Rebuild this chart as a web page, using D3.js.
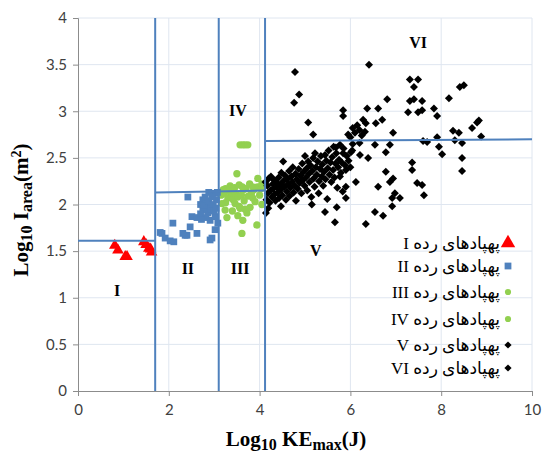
<!DOCTYPE html>
<html>
<head>
<meta charset="utf-8">
<script src="https://cdn.jsdelivr.net/npm/d3@7"></script>
<style>
  body { margin: 0; background: #fff; }
  svg { display: block; }
</style>
</head>
<body>
<script>
// class I .. VI : [log10 KEmax, log10 Iarea]
var class1 = [[0.81,1.56],[0.88,1.51],[1.04,1.44],[1.08,1.44],[1.45,1.60],[1.50,1.57],[1.56,1.53],[1.60,1.52],[1.62,1.49]];

var class2 = [[1.81,1.70],[1.85,1.69],[1.92,1.64],[2.03,1.61],[2.11,1.60],[2.09,1.80],[2.31,1.69],[2.36,1.67],[2.40,1.67],
  [2.47,1.76],[2.51,1.87],[2.42,2.08],[2.62,1.69],[2.62,1.86],[2.91,1.62],[2.95,1.64],[3.02,1.73],[2.75,2.05],[2.95,2.10],
  [3.02,2.12],[2.84,1.97],[2.86,1.91],[2.75,1.94],[2.91,1.83],[3.02,1.87],[3.08,1.80],[2.70,2.00],[2.78,1.99],[2.80,2.08],
  [2.88,2.04],[2.92,1.95],[2.98,2.00],[3.05,2.05],[2.70,1.90],[2.82,1.86],[3.00,1.93],[3.07,2.13],[2.88,2.13],[2.96,2.08],
  [2.72,1.84],[3.04,1.96]];

var class3 = [[3.15,2.10],[3.17,2.01],[3.22,2.12],[3.24,1.94],[3.28,1.86],[3.30,2.07],[3.35,2.08],[3.38,2.12],[3.42,2.05],
  [3.46,2.01],[3.48,2.11],[3.52,2.08],[3.55,1.98],[3.57,1.96],[3.60,2.10],[3.61,1.69],[3.63,1.83],[3.66,2.04],[3.72,1.91],
  [3.75,2.09],[3.79,1.97],[3.82,2.12],[3.85,2.07],[3.90,2.03],[3.94,1.78],[4.00,2.10],[4.05,2.00],[3.25,2.02],[3.68,1.95],
  [3.40,1.93],[3.52,1.88]];

var class4 = [[3.57,2.64],[3.63,2.64],[3.68,2.64],[3.74,2.64],[3.50,2.33],[3.96,2.28],[3.25,2.17],[3.35,2.20],[3.45,2.18],
  [3.55,2.21],[3.62,2.19],[3.70,2.17],[3.78,2.22],[3.88,2.16],[3.95,2.19],[4.03,2.17],[3.30,2.15],[3.42,2.15],[3.65,2.16],
  [3.85,2.19],[4.05,2.22],[3.20,2.16]];

var class5 = [[7.60,2.68],[7.69,2.67],[7.95,2.62],[8.02,2.54],[8.30,2.69],[8.46,2.66],[8.46,2.50],[8.46,2.36],[6.54,2.64],
  [6.87,2.64],[6.78,2.56],[6.39,2.50],[6.21,2.53],[7.36,2.45],[7.36,2.37],[6.78,2.35],[6.87,2.24],[6.94,2.28],[6.61,2.19],
  [7.47,2.23],[7.58,2.21],[7.62,2.10],[6.98,2.12],[6.92,2.07],[7.09,2.07],[6.92,1.98],[6.54,1.92],[6.72,1.88],[6.34,1.79],
  [6.12,2.24],[5.90,2.07],[5.66,1.81],[5.70,1.97],[5.44,1.92],[5.15,2.00],[4.47,1.98],[4.19,1.96],[4.52,2.46],[5.90,2.19],
  [5.68,2.61],[5.84,2.55],[6.01,2.56],[5.90,2.37],[5.77,2.30],[6.05,2.65],[6.20,2.66],[4.14,1.91],[4.13,2.24],
  [4.15,2.05],[4.17,2.20],[4.18,2.12],[4.20,2.28],[4.22,2.02],[4.24,2.15],[4.25,2.30],[4.27,2.08],[4.29,2.22],[4.30,2.17],
  [4.32,2.26],[4.33,2.11],[4.35,2.04],[4.37,2.24],[4.38,2.19],[4.40,2.13],[4.42,2.29],[4.43,2.07],[4.45,2.21],[4.47,2.16],
  [4.48,2.34],[4.50,2.10],[4.52,2.25],[4.54,2.19],[4.56,2.31],[4.58,2.05],[4.60,2.14],[4.61,2.27],[4.63,2.22],[4.65,2.36],
  [4.66,2.09],[4.68,2.18],[4.70,2.30],[4.72,2.24],[4.73,2.40],[4.75,2.13],[4.77,2.20],[4.79,2.33],[4.80,2.04],[4.82,2.27],
  [4.84,2.17],[4.86,2.38],[4.88,2.23],[4.90,2.31],[4.92,2.12],[4.94,2.44],[4.95,2.26],[4.97,2.35],[4.99,2.20],
  [5.00,2.52],[5.02,2.29],[5.04,2.39],[5.05,2.15],[5.07,2.46],[5.09,2.33],[5.10,2.24],[5.12,2.42],[5.14,2.08],[5.16,2.36],
  [5.18,2.50],[5.19,2.28],[5.21,2.19],[5.22,2.55],[5.24,2.40],[5.26,2.32],[5.28,2.46],[5.30,2.12],[5.31,2.25],[5.33,2.38],
  [5.35,2.52],[5.37,2.30],[5.38,2.43],[5.40,2.20],[5.42,2.35],[5.44,2.53],[5.45,2.27],[5.47,2.47],[5.49,2.06],
  [5.50,2.39],[5.52,2.58],[5.54,2.32],[5.56,2.45],[5.58,2.24],[5.60,2.51],[5.62,2.37],[5.63,2.62],[5.65,2.29],[5.67,2.44],
  [5.69,2.55],[5.71,2.18],[5.73,2.40],[5.75,2.48],[5.77,2.64],[5.79,2.34],[5.81,2.45],[5.83,2.14],[5.85,2.60],[5.88,2.42],
  [5.92,2.52],[5.96,2.47],[6.00,2.40],[6.04,2.58]];

var class6 = [[4.78,3.42],[4.87,3.18],[4.76,3.09],[5.07,2.88],[5.18,2.75],[5.84,3.01],[5.84,2.95],[6.41,3.50],[7.31,3.34],
  [7.49,3.34],[7.40,3.26],[6.81,3.13],[7.31,3.11],[7.40,3.13],[7.58,3.11],[7.27,2.99],[7.49,2.99],[7.58,3.01],[6.37,3.03],
  [6.61,3.03],[6.56,2.87],[6.70,2.91],[6.28,2.91],[6.34,2.87],[6.94,2.77],[7.84,3.03],[7.91,2.95],[8.17,3.14],[8.41,3.26],
  [8.50,3.28],[8.26,2.79],[8.39,2.77],[8.68,2.82],[8.79,2.88],[8.83,2.90],[8.88,2.73],[7.91,2.72],[5.95,2.75],[6.10,2.77],
  [6.05,2.82],[6.20,2.80],[6.25,2.74],[6.15,2.85],[6.00,2.72],[6.32,2.78]];

// region boundaries
var vBounds = [1.7, 3.1, 4.12];
var hBounds = [[0, 1.61, 1.7, 1.61], [1.7, 2.13, 4.12, 2.15], [4.12, 2.68, 10, 2.70]];

// region names
var regionNames = ['I', 'II', 'III', 'IV', 'V', 'VI'];
var regionPos = [[0.86, 1.08], [2.42, 1.32], [3.57, 1.32], [3.52, 3.01], [5.24, 1.51], [7.49, 3.74]];

var legendNames = ['پهپادهای رده I', 'پهپادهای رده II', 'پهپادهای رده III', 'پهپادهای رده IV', 'پهپادهای رده V', 'پهپادهای رده VI'];

var yTicks = [0, 0.5, 1, 1.5, 2, 2.5, 3, 3.5, 4];
var xTicks = [0, 2, 4, 6, 8, 10];

var w = 542;
var h = 456;
var plotL = 78, plotR = 532, plotT = 18, plotB = 391;

var svg = d3.select('body')
  .append('svg')
  .attr('width', w)
  .attr('height', h);

var xScale = d3.scaleLinear().domain([0, 10]).range([plotL, plotR]);
var yScale = d3.scaleLinear().domain([0, 4]).range([plotB, plotT]);

// grid
svg.append('g').selectAll('line')
  .data(yTicks.slice(1))
  .enter().append('line')
  .attr('x1', plotL).attr('x2', plotR)
  .attr('y1', d => yScale(d)).attr('y2', d => yScale(d))
  .attr('stroke', '#dfe6f0').attr('stroke-width', 1);

svg.append('g').selectAll('line')
  .data(xTicks.slice(1))
  .enter().append('line')
  .attr('x1', d => xScale(d)).attr('x2', d => xScale(d))
  .attr('y1', plotT).attr('y2', plotB)
  .attr('stroke', '#dfe6f0').attr('stroke-width', 1);

// axes
var xAxis = d3.axisBottom(xScale).tickValues(xTicks).tickSize(5).tickPadding(8).tickFormat(d => d);
var yAxis = d3.axisLeft(yScale).tickValues(yTicks).tickSize(5).tickPadding(6).tickFormat(d => d);

svg.append('g')
  .attr('class', 'x_axis')
  .attr('transform', 'translate(0,' + plotB + ')')
  .call(xAxis);

svg.append('g')
  .attr('class', 'y_axis')
  .attr('transform', 'translate(' + plotL + ',0)')
  .call(yAxis);

svg.selectAll('.x_axis path, .y_axis path, .x_axis line, .y_axis line')
  .attr('stroke', '#8c8c8c');
svg.selectAll('.x_axis text, .y_axis text')
  .attr('fill', '#404040')
  .style('font-family', 'Lato, "Open Sans", sans-serif')
  .style('font-size', '15px');

// rotated square reads wider than d3's diamond, like the Excel marker
function markerPath(type, size) {
  return d3.symbol().type(type === 'diamond' ? d3.symbolSquare : type).size(size)();
}

// points
function drawSymbols(data, type, size, color) {
  svg.append('g').selectAll('path')
    .data(data)
    .enter().append('path')
    .attr('d', markerPath(type, size))
    .attr('transform', d => 'translate(' + xScale(d[0]) + ',' + yScale(d[1]) + ')' + (type === 'diamond' ? ' rotate(45)' : ''))
    .attr('fill', color);
}

drawSymbols(class3, d3.symbolCircle, 42, '#92d050');
drawSymbols(class4, d3.symbolCircle, 42, '#92d050');
drawSymbols(class2, d3.symbolSquare, 46, '#4f81bd');
drawSymbols(class1, d3.symbolTriangle, 58, '#ff0000');
drawSymbols(class5, 'diamond', 32, '#000');
drawSymbols(class6, 'diamond', 32, '#000');

// boundary lines
svg.append('g').selectAll('line')
  .data(vBounds)
  .enter().append('line')
  .attr('x1', d => xScale(d)).attr('x2', d => xScale(d))
  .attr('y1', yScale(4)).attr('y2', yScale(0))
  .attr('stroke', '#4f81bd').attr('stroke-width', 2);

svg.append('g').selectAll('line')
  .data(hBounds)
  .enter().append('line')
  .attr('x1', d => xScale(d[0])).attr('y1', d => yScale(d[1]))
  .attr('x2', d => xScale(d[2])).attr('y2', d => yScale(d[3]))
  .attr('stroke', '#4f81bd').attr('stroke-width', 2);

// region labels
svg.append('g').selectAll('text')
  .data(regionNames)
  .enter().append('text')
  .attr('x', (d, i) => xScale(regionPos[i][0]))
  .attr('y', (d, i) => yScale(regionPos[i][1]))
  .attr('text-anchor', 'middle')
  .attr('dy', '0.35em')
  .style('font-family', '"Liberation Serif", serif')
  .style('font-weight', 'bold')
  .style('font-size', '16px')
  .text(d => d);

// legend
var legendY = [243, 266, 292, 319, 345, 368];
var legendSym = [d3.symbolTriangle, d3.symbolSquare, d3.symbolCircle, d3.symbolCircle, 'diamond', 'diamond'];
var legendCol = ['#ff0000', '#4f81bd', '#92d050', '#92d050', '#000', '#000'];
var legendSize = [90, 46, 30, 30, 26, 26];

var legend = svg.append('g');
legend.selectAll('text')
  .data(legendNames)
  .enter().append('text')
  .attr('x', 500)
  .attr('y', (d, i) => legendY[i])
  .attr('dy', '0.35em')
  .attr('direction', 'rtl')
  .attr('text-anchor', 'start')
  .style('font-family', '"Liberation Serif", "DejaVu Sans", serif')
  .style('font-size', '17px')
  .text(d => d);

legend.selectAll('path')
  .data(legendNames)
  .enter().append('path')
  .attr('d', (d, i) => markerPath(legendSym[i], legendSize[i]))
  .attr('transform', (d, i) => 'translate(508,' + legendY[i] + ')' + (legendSym[i] === 'diamond' ? ' rotate(45)' : ''))
  .attr('fill', (d, i) => legendCol[i]);

// axis titles
var xTitle = svg.append('text')
  .attr('x', 296)
  .attr('y', 446)
  .attr('text-anchor', 'middle')
  .style('font-family', '"Liberation Serif", serif')
  .style('font-weight', 'bold')
  .style('font-size', '21px');
xTitle.append('tspan').text('Log');
xTitle.append('tspan').attr('baseline-shift', '-25%').style('font-size', '16px').text('10');
xTitle.append('tspan').text(' KE');
xTitle.append('tspan').attr('baseline-shift', '-25%').style('font-size', '16px').text('max');
xTitle.append('tspan').text('(J)');

var yTitle = svg.append('text')
  .attr('transform', 'translate(28,210) rotate(-90)')
  .attr('text-anchor', 'middle')
  .style('font-family', '"Liberation Serif", serif')
  .style('font-weight', 'bold')
  .style('font-size', '21px');
yTitle.append('tspan').text('Log');
yTitle.append('tspan').attr('baseline-shift', '-25%').style('font-size', '16px').text('10');
yTitle.append('tspan').text(' I');
yTitle.append('tspan').attr('baseline-shift', '-25%').style('font-size', '16px').text('area');
yTitle.append('tspan').text('(m');
yTitle.append('tspan').attr('baseline-shift', 'super').style('font-size', '14px').text('2');
yTitle.append('tspan').text(')');
</script>
</body>
</html>
